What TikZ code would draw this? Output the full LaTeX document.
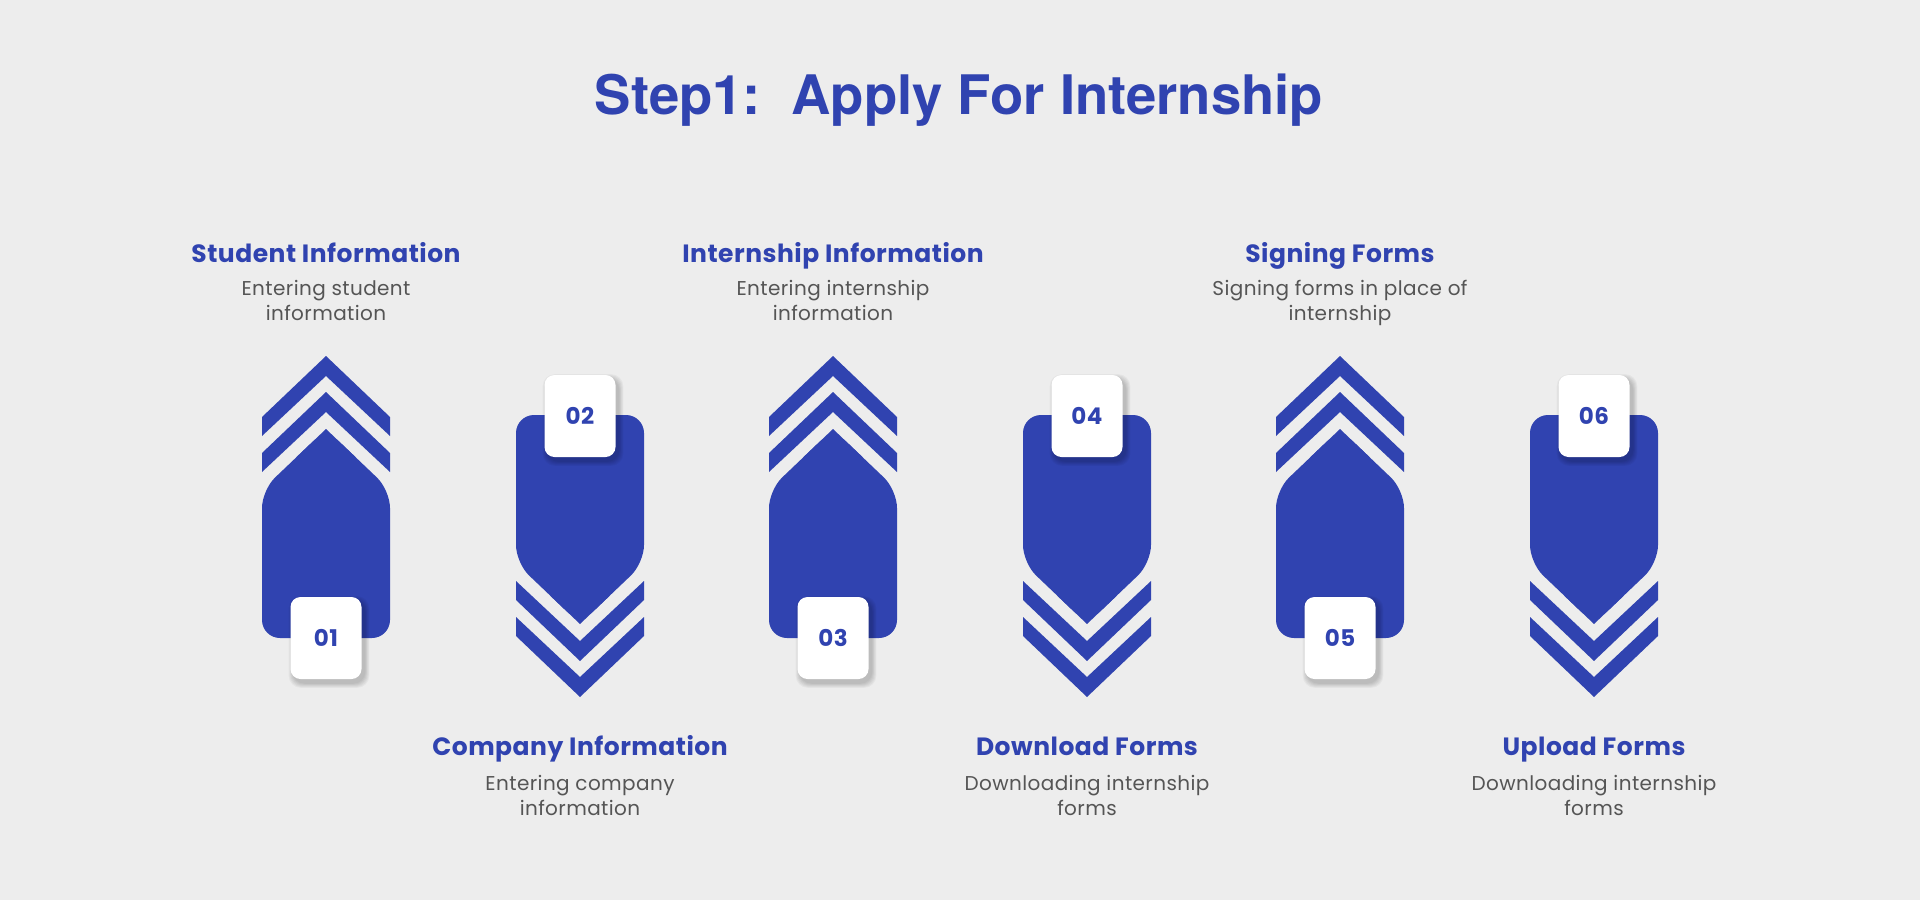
\documentclass[tikz,border=0pt]{standalone}
\usepackage{fontspec}
\newfontfamily\titlefont{TeX Gyre Heros}
\newfontfamily\labelfont{Poppins}
\newfontfamily\labelfontwide[LetterSpace=2]{Poppins}
\definecolor{mainblue}{HTML}{3043B0}
\definecolor{bgcol}{HTML}{EDEDED}
\definecolor{desccol}{HTML}{555555}
\tikzset{
  heading/.style={font=\titlefont\bfseries\fontsize{54.5}{64}\selectfont, text=mainblue, inner sep=0pt},
  steptitle/.style={font=\labelfontwide\bfseries\fontsize{25}{30}\selectfont, text=mainblue, inner sep=0pt},
  stepdesc/.style={font=\labelfontwide\fontsize{20}{25}\selectfont, text=desccol, inner sep=0pt, align=center},
  badge/.style={fill=white, rounded corners=10pt, minimum width=71pt, minimum height=82pt, inner sep=0pt,
     font=\labelfontwide\bfseries\fontsize{23}{26}\selectfont, text=mainblue},
  shapefill/.style={fill=mainblue}
}
\newcommand\arrowbody{%
  \fill[shapefill] (0,356) -- (64,417) -- (64,436) -- (0,376) -- (-64,436) -- (-64,417) -- cycle;
  \fill[shapefill] (0,392) -- (64,453) -- (64,472) -- (0,412) -- (-64,472) -- (-64,453) -- cycle;
  \fill[shapefill, rounded corners=18pt] (0,429) -- (64,490) -- (64,638) -- (-64,638) -- (-64,490) -- cycle;
  \fill[shapefill] (0,429) -- (30,457.6) -- (-30,457.6) -- cycle;
}
\newcommand\badgeshadow[2]{%
  \foreach \k in {1,...,6}{
    \fill[black, opacity=0.035, rounded corners=12pt]
      ({#1-35.5+3-\k*0.8},{#2-41+4-\k*0.8}) rectangle ({#1+35.5+3+\k*0.8},{#2+41+4+\k*0.8});
  }
}
\begin{document}
\begin{tikzpicture}[x=1pt,y=-1pt]
\fill[bgcol] (0,0) rectangle (1920,900);
\useasboundingbox (0,0) rectangle (1920,900);

\node[heading, anchor=base] (head) at (959,114) {Step1:\ \ Apply For Internship};

% up shapes: columns 1,3,5
\foreach \cx in {326,833,1340}{
  \begin{scope}[xshift=\cx pt]\arrowbody\end{scope}
}
% down shapes: columns 2,4,6
\foreach \cx in {580,1087,1594}{
  \begin{scope}[xshift=\cx pt, shift={(0,1053)}, yscale=-1]\arrowbody\end{scope}
}

% badges
\badgeshadow{326}{638}
\node[badge] (b1) at (326,638) {01};
\badgeshadow{580}{416}
\node[badge] (b2) at (580,416) {02};
\badgeshadow{833}{638}
\node[badge] (b3) at (833,638) {03};
\badgeshadow{1087}{416}
\node[badge] (b4) at (1087,416) {04};
\badgeshadow{1340}{638}
\node[badge] (b5) at (1340,638) {05};
\badgeshadow{1594}{416}
\node[badge] (b6) at (1594,416) {06};

% top texts
\node[steptitle, anchor=base] (t1) at (326,262) {Student Information};
\node[stepdesc, anchor=base] (d1) at (326,320) {Entering student\\information};
\node[steptitle, anchor=base] (t3) at (833,262) {Internship Information};
\node[stepdesc, anchor=base] (d3) at (833,320) {Entering internship\\information};
\node[steptitle, anchor=base] (t5) at (1340,262) {Signing Forms};
\node[stepdesc, anchor=base] (d5) at (1340,320) {Signing forms in place of\\internship};

% bottom texts
\node[steptitle, anchor=base] (t2) at (580,755) {Company Information};
\node[stepdesc, anchor=base] (d2) at (580,815) {Entering company\\information};
\node[steptitle, anchor=base] (t4) at (1087,755) {Download Forms};
\node[stepdesc, anchor=base] (d4) at (1087,815) {Downloading internship\\forms};
\node[steptitle, anchor=base] (t6) at (1594,755) {Upload Forms};
\node[stepdesc, anchor=base] (d6) at (1594,815) {Downloading internship\\forms};
\end{tikzpicture}
\end{document}
